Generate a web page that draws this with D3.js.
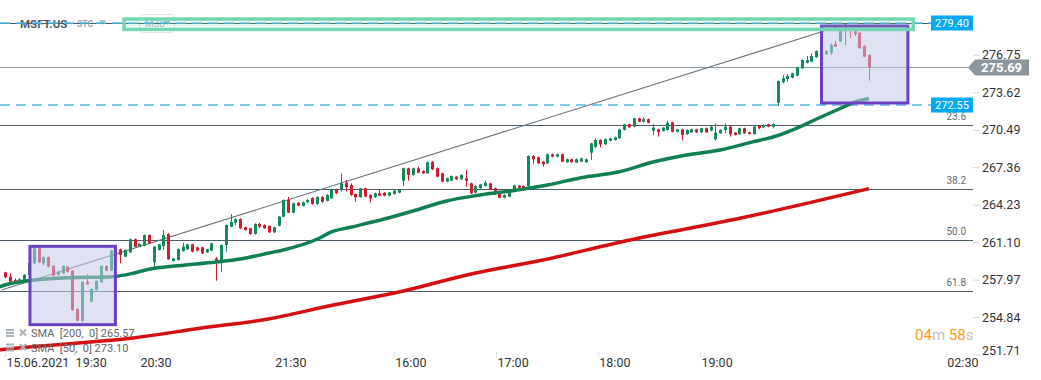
<!DOCTYPE html>
<html>
<head>
<meta charset="utf-8">
<script src="https://cdn.jsdelivr.net/npm/d3@7"></script>
<style>
  body { margin: 0; background: #fff; font-family: Roboto, "Noto Sans", sans-serif; }
  svg { display: block; }
</style>
</head>
<body>
<div id="chart"></div>
<script>
////////////////////////////////////
////////////// data ////////////////
////////////////////////////////////

const symbol = 'MSFT.US'
const interval = 'M30'

// one row per candle: [open, high, low, close]
const candles = [
  [258.58,258.63,258.08,258.17],[258.22,258.50,257.66,257.80],[257.94,258.08,257.61,257.75],[257.75,258.08,257.66,258.00],
  [257.88,258.42,257.80,258.36],[258.36,259.40,258.30,259.36],[259.33,260.65,259.25,260.59],[260.59,260.65,259.35,259.42],
  [259.33,259.90,259.19,259.84],[259.84,259.90,259.00,259.05],[259.13,259.19,258.22,258.30],[258.36,258.70,258.30,258.63],
  [258.50,259.15,258.45,259.11],[259.05,259.11,258.58,258.63],[258.72,258.78,255.35,255.44],[255.52,255.56,254.48,254.54],
  [254.54,257.82,254.41,257.80],[257.80,258.42,257.55,257.58],[256.13,257.23,256.08,257.19],[257.11,257.90,257.05,257.86],
  [257.75,259.15,257.70,259.11],[259.11,259.15,258.68,258.72],[258.72,260.43,258.68,260.39],[260.30,260.60,260.20,260.50],
  [260.50,260.55,259.33,260.03],[259.89,260.50,259.85,260.45],[260.25,261.40,260.20,261.34],[261.34,261.40,260.68,260.72],
  [260.72,261.00,260.68,260.95],[260.80,261.75,260.75,261.70],[261.70,261.75,260.95,261.00],[259.42,260.76,258.92,260.72],
  [260.45,260.97,260.40,260.92],[260.78,262.12,260.45,261.70],[261.78,261.85,259.62,259.67],[259.53,259.80,259.48,259.75],
  [259.61,260.58,259.56,260.53],[260.36,261.06,260.30,260.72],[260.50,260.97,260.45,260.92],[260.92,260.97,260.25,260.30],
  [260.67,260.72,260.35,260.39],[260.67,260.72,260.12,260.17],[260.25,260.55,260.20,260.50],[260.39,261.05,260.35,261.00],
  [259.75,259.84,257.88,259.47],[259.47,260.90,258.63,260.86],[260.86,262.58,260.30,262.53],[262.39,263.45,262.35,262.81],
  [262.72,263.09,262.53,263.03],[263.03,263.09,262.20,262.26],[262.34,262.40,262.05,262.12],[262.26,262.30,261.72,261.78],
  [261.78,262.67,261.72,262.62],[262.62,262.72,262.26,262.39],[262.53,262.58,262.20,262.26],[262.45,262.50,261.87,261.92],
  [261.92,262.40,261.87,262.34],[262.47,263.28,262.42,263.23],[263.23,264.67,263.18,264.62],[264.62,264.87,263.53,263.56],
  [263.56,264.40,263.50,264.34],[264.39,264.45,264.10,264.14],[264.12,264.50,264.08,264.43],[264.43,264.68,264.38,264.62],
  [264.79,264.85,264.22,264.29],[264.29,264.93,264.22,264.87],[264.87,264.93,264.40,264.45],[264.54,265.10,264.50,265.04],
  [264.76,265.56,264.70,265.51],[265.51,265.56,265.12,265.18],[265.51,266.85,265.31,266.01],[266.06,266.29,265.31,265.68],
  [265.87,266.01,264.95,265.04],[265.12,265.17,264.48,264.85],[264.85,265.65,264.80,265.60],[265.60,265.65,264.85,264.90],
  [265.04,265.10,264.39,264.76],[264.85,265.23,264.80,265.18],[265.18,265.46,264.95,264.98],[265.23,265.28,264.93,264.98],
  [264.98,265.31,264.93,265.26],[265.12,265.45,265.07,265.40],[265.23,265.51,265.18,265.46],[266.23,267.32,265.81,267.27],
  [267.27,267.32,266.23,266.71],[266.71,267.32,266.65,267.27],[267.27,267.40,266.85,266.90],[267.04,267.10,266.80,266.85],
  [266.85,267.83,266.80,267.77],[267.82,267.88,267.12,267.18],[267.27,267.32,266.52,266.57],[266.85,266.90,266.10,266.15],
  [266.15,266.48,266.10,266.43],[266.23,266.68,266.18,266.62],[266.57,266.62,266.30,266.35],[266.35,266.76,266.30,266.71],
  [266.43,267.13,265.73,266.23],[266.01,266.06,265.12,265.18],[265.23,265.84,265.18,265.79],[265.60,265.98,265.55,265.93],
  [265.79,266.23,265.73,266.06],[266.01,266.06,265.46,265.51],[265.60,265.65,265.04,265.18],[265.23,265.28,264.76,264.81],
  [264.81,265.10,264.76,265.04],[264.90,265.42,264.85,265.37],[265.31,265.90,265.26,265.85],[265.81,265.87,265.60,265.65],
  [265.79,265.84,265.40,265.46],[265.79,268.35,265.73,268.29],[268.29,268.38,267.60,268.02],[268.19,268.24,267.63,267.68],
  [267.82,267.88,267.40,267.60],[267.68,268.50,267.63,268.44],[268.44,268.50,268.18,268.24],[268.24,268.50,268.18,268.44],
  [268.44,268.50,267.77,267.82],[267.77,268.08,267.72,268.02],[268.02,268.08,267.72,267.77],[267.74,268.08,267.70,268.02],
  [267.82,268.16,267.77,268.10],[267.77,268.08,267.72,268.02],[268.57,269.40,267.96,269.35],[269.07,269.77,268.94,269.63],
  [269.63,269.69,269.02,269.27],[269.27,269.76,269.22,269.71],[269.57,269.82,269.52,269.77],[269.63,269.91,269.58,269.86],
  [269.77,270.57,269.72,270.52],[270.47,270.99,270.42,270.94],[270.94,270.99,270.64,270.69],[270.74,271.49,270.69,271.44],
  [271.44,271.49,271.11,271.16],[271.16,271.53,271.11,271.36],[271.36,271.41,271.02,271.07],[270.41,270.97,270.05,270.66],
  [270.52,270.57,269.91,270.27],[270.38,270.71,270.33,270.66],[270.47,271.24,270.42,271.07],[271.11,271.16,270.27,270.32],
  [270.32,270.57,270.27,270.52],[270.52,270.57,269.57,270.05],[270.11,270.52,270.06,270.47],[270.27,270.57,270.22,270.52],
  [270.52,270.57,270.22,270.27],[270.27,270.66,270.22,270.61],[270.61,270.66,270.22,270.27],[270.41,270.79,270.36,270.74],
  [269.69,271.02,269.57,270.24],[270.19,270.52,270.14,270.47],[270.47,271.02,270.19,270.74],[270.74,270.79,269.91,270.11],
  [270.24,270.29,270.00,270.05],[270.11,270.66,270.06,270.61],[270.61,270.66,270.14,270.19],[270.27,270.32,270.08,270.13],
  [270.13,270.79,270.08,270.74],[270.80,270.85,270.52,270.61],[270.69,270.93,270.64,270.88],[270.94,270.99,270.69,270.74],
  [270.74,271.02,270.61,270.97],[272.74,274.60,272.47,274.56],[274.45,275.06,274.36,274.78],[274.72,275.14,274.50,274.97],
  [274.83,275.25,274.78,275.20],[275.00,275.75,274.95,275.70],[275.62,276.36,275.57,276.31],[276.08,276.64,276.03,276.31],
  [276.17,276.87,276.12,276.64],[276.54,277.11,276.49,277.06],[277.06,277.20,276.74,276.79],[276.79,277.12,276.74,277.06],
  [276.92,277.70,276.73,277.56],[277.65,277.90,277.38,277.42],[277.84,278.87,277.80,278.82],[278.96,279.40,277.56,278.76],
  [278.82,279.10,278.12,278.73],[278.76,278.85,278.31,278.48],[278.59,278.65,277.25,277.29],[277.48,277.55,276.53,276.59],
  [276.73,276.78,274.58,275.69]
]

// moving averages: [candle index, price]
const sma50 = [[-1.2,257.36],[0,257.52],[6,257.94],[13,258.13],[22.5,258.22],[26.7,258.50],[30,258.84],[36,259.13],
  [44,259.44],[49,259.69],[55,260.19],[58,260.45],[65,261.34],[68,261.95],[72,262.34],[79,263.03],[85,263.70],[92,264.54],
  [99,265.04],[106,265.41],[113,265.87],[120,266.48],[128,266.98],[135,267.79],[142,268.38],[149,268.80],[156,269.49],
  [160,269.88],[165,270.63],[170,271.55],[174,272.26],[177,272.80],[180,273.10]]
const sma200 = [[-1.2,252.10],[0,252.15],[12.9,252.60],[26.7,253.10],[40.6,253.91],[54.5,254.66],[68.4,255.85],
  [83,257.02],[96.2,258.36],[112.1,259.61],[130.2,261.28],[153.1,263.09],[167,264.34],[180,265.57]]
const smaLegend = [{ name: 'SMA  [200,  0]', value: 265.57 }, { name: 'SMA  [50,  0]', value: 273.10 }]

// price axis
const priceTicks = [276.75, 273.62, 270.49, 267.36, 264.23, 261.10, 257.97, 254.84, 251.71]

// time axis (candle index of each label)
const timeTicks = [0, 14.4, 27.9, 56, 81, 102.3, 123.5, 144.8, 196]
const timeLabels = ['15.06.2021', '19:30', '20:30', '21:30', '16:00', '17:00', '18:00', '19:00', '02:30']

// fibonacci retracement
const fibHigh = 279.40
const fibLow = 243.18
const fibLevels = [0, 23.6, 38.2, 50.0, 61.8]

// price lines
const lastPrice = 275.69
const alertLevels = [279.40, 272.55]

// drawing objects: [index from, index to, price top, price bottom]
const trendLine = [[-0.7, 257.11], [174.6, 279.23]]
const boxes = [[5.2, 23, 260.75, 254.21], [170.1, 188.1, 279.15, 272.72]]
const zone = [24.8, 189.2, 279.73, 278.86]

const timer = ['04', 'm', ' 58', 's']

////////////////////////////////////
//////////// SVG Setup /////////////
////////////////////////////////////

const svgWidth = 1041
const svgHeight = 380
const plotRight = 973

const svg = d3.select('#chart')
  .append('svg')
  .attr('width', svgWidth)
  .attr('height', svgHeight)

const x = d3.scaleLinear().domain([0, 180]).range([5, 869])
const y = d3.scaleLinear().domain([281.32, 251.71]).range([0, 354.6])

const green = '#138a5b'
const red = '#d61a2e'
const lineColor = '#4b5b66'

////////////////////////////////////
////////////// header //////////////
////////////////////////////////////

const header = svg.append('g')
header.append('text').attr('x', 20).attr('y', 27.5).text(symbol)
  .attr('font-size', 11.5).attr('font-weight', 700).attr('fill', '#4e5d68')
header.append('text').attr('x', 77).attr('y', 27).text('STC')
  .attr('font-size', 8.5).attr('font-weight', 700).attr('fill', '#9aa6ae')
header.append('path').attr('d', 'M99,20 L106,20 L102.5,25 Z').attr('fill', '#b6c0c6')
header.append('rect').attr('x', 139.5).attr('y', 14.5).attr('width', 35).attr('height', 18).attr('rx', 3)
  .attr('fill', 'none').attr('stroke', '#dde3e6')
header.append('text').attr('x', 145).attr('y', 27).text(interval)
  .attr('font-size', 10).attr('fill', '#aab3b9')
header.append('path').attr('d', 'M164,21 L170,21 L167,25 Z').attr('fill', '#aab3b9')

////////////////////////////////////
/////////// level lines ////////////
////////////////////////////////////

const fibPrice = l => fibHigh - (fibHigh - fibLow) * l / 100

svg.append('g').selectAll('line')
  .data(fibLevels)
  .join('line')
  .attr('x1', 0).attr('x2', plotRight)
  .attr('y1', d => Math.round(y(fibPrice(d))) + 0.5)
  .attr('y2', d => Math.round(y(fibPrice(d))) + 0.5)
  .attr('stroke', lineColor).attr('stroke-width', 1)

// the 0.0 label sits under the 279.40 tag, so only the others are written
svg.append('g').selectAll('text')
  .data(fibLevels.filter(d => d > 0))
  .join('text')
  .attr('x', 966).attr('y', d => y(fibPrice(d)) - 5)
  .attr('text-anchor', 'end').attr('font-size', 10).attr('fill', '#5d6a73')
  .text(d => d.toFixed(1))

svg.append('g').selectAll('line')
  .data(alertLevels)
  .join('line')
  .attr('x1', 0).attr('x2', 931)
  .attr('y1', d => y(d)).attr('y2', d => y(d))
  .attr('stroke', '#4fbbea').attr('stroke-width', 1.5).attr('stroke-dasharray', '10,6')

svg.append('line')
  .attr('x1', 0).attr('x2', 968)
  .attr('y1', Math.round(y(lastPrice)) + 0.5).attr('y2', Math.round(y(lastPrice)) + 0.5)
  .attr('stroke', '#8f9ba2').attr('stroke-width', 1)

svg.append('line')
  .attr('x1', x(trendLine[0][0])).attr('y1', y(trendLine[0][1]))
  .attr('x2', x(trendLine[1][0])).attr('y2', y(trendLine[1][1]))
  .attr('stroke', '#66747e').attr('stroke-width', 1.1)

////////////////////////////////////
////////////// candles /////////////
////////////////////////////////////

const cx = i => Math.round(x(i)) + 0.5

const candle = svg.append('g').selectAll('g')
  .data(candles)
  .join('g')
  .attr('class', 'candle')

candle.append('line')
  .attr('x1', (d, i) => cx(i)).attr('x2', (d, i) => cx(i))
  .attr('y1', d => y(d[1])).attr('y2', d => y(d[2]))
  .attr('stroke', d => d[3] >= d[0] ? green : red).attr('stroke-width', 1)

candle.append('rect')
  .attr('x', (d, i) => cx(i) - 1.5)
  .attr('width', 3)
  .attr('y', d => y(Math.max(d[0], d[3])))
  .attr('height', d => Math.max(1, Math.abs(y(d[0]) - y(d[3]))))
  .attr('fill', d => d[3] >= d[0] ? green : red)

////////////////////////////////////
/////////// moving averages ////////
////////////////////////////////////

const smaLine = d3.line().x(d => x(d[0])).y(d => y(d[1])).curve(d3.curveMonotoneX)

svg.append('path').datum(sma200).attr('d', smaLine)
  .attr('fill', 'none').attr('stroke', '#d50f0f').attr('stroke-width', 3.5).attr('stroke-linejoin', 'round')
svg.append('path').datum(sma50).attr('d', smaLine)
  .attr('fill', 'none').attr('stroke', '#108053').attr('stroke-width', 3.5).attr('stroke-linejoin', 'round')

////////////////////////////////////
////////// drawing objects /////////
////////////////////////////////////

svg.append('g').selectAll('rect')
  .data(boxes)
  .join('rect')
  .attr('x', d => x(d[0])).attr('width', d => x(d[1]) - x(d[0]))
  .attr('y', d => y(d[2])).attr('height', d => y(d[3]) - y(d[2]))
  .attr('fill', 'rgba(197,202,233,0.55)').attr('stroke', '#6a3fc2').attr('stroke-width', 3)

svg.append('rect')
  .attr('x', x(zone[0])).attr('width', x(zone[1]) - x(zone[0]))
  .attr('y', y(zone[2])).attr('height', y(zone[3]) - y(zone[2]))
  .attr('fill', 'rgba(120,220,180,0.16)').attr('stroke', '#72d8b1').attr('stroke-width', 3.5)

////////////////////////////////////
/////////////// axes ///////////////
////////////////////////////////////

const yAxis = svg.append('g')
  .attr('transform', 'translate(' + plotRight + ',0)')
  .call(d3.axisRight(y).tickValues(priceTicks).tickFormat(d3.format('.2f')).tickSize(7).tickPadding(2))
yAxis.select('.domain').remove()
yAxis.selectAll('line').attr('stroke', '#d6d6d6')
yAxis.selectAll('text').attr('font-size', 12.5).attr('fill', '#333').attr('font-family', 'Roboto, sans-serif')
  .attr('transform', d => y(d) > 350 ? 'translate(0,-4.5)' : null)

const xAxis = svg.append('g')
  .attr('transform', 'translate(0,352)')
  .call(d3.axisBottom(x).tickValues(timeTicks).tickFormat((d, i) => timeLabels[i]).tickSize(5).tickPadding(1.5))
xAxis.select('.domain').remove()
xAxis.selectAll('line').attr('stroke', '#e2e2e2')
xAxis.selectAll('text').attr('text-anchor', 'start').attr('x', 1)
  .attr('font-size', 12.5).attr('fill', '#333').attr('font-family', 'Roboto, sans-serif')

////////////////////////////////////
///////////// price tags ///////////
////////////////////////////////////

const tags = svg.append('g').selectAll('g')
  .data(alertLevels)
  .join('g')
  .attr('transform', d => 'translate(931,' + y(d) + ')')
tags.append('rect').attr('x', 0).attr('y', -7.5).attr('width', 42).attr('height', 15).attr('fill', '#03a9f4')
tags.append('text').attr('x', 21).attr('y', 4).attr('text-anchor', 'middle')
  .attr('font-size', 11).attr('fill', '#fff').text(d => d.toFixed(2))

const ly = y(lastPrice)
svg.append('path')
  .attr('d', 'M968,' + ly + ' L975,' + (ly - 8) + ' L1029,' + (ly - 8) + ' L1029,' + (ly + 8) + ' L975,' + (ly + 8) + ' Z')
  .attr('fill', '#8c979d')
svg.append('text').attr('x', 981).attr('y', ly + 5).text(lastPrice.toFixed(2))
  .attr('font-size', 13).attr('font-weight', 700).attr('fill', '#fff')

////////////////////////////////////
////////////// legend //////////////
////////////////////////////////////

const legend = svg.append('g').selectAll('g')
  .data(smaLegend)
  .join('g')
  .attr('transform', (d, i) => 'translate(0,' + (333 + i * 14.5) + ')')
legend.append('rect').attr('x', 6).attr('y', -4).attr('width', 8).attr('height', 2).attr('fill', '#a9b1b6')
legend.append('rect').attr('x', 6).attr('y', -1).attr('width', 8).attr('height', 2).attr('fill', '#a9b1b6')
legend.append('rect').attr('x', 6).attr('y', 2).attr('width', 8).attr('height', 2).attr('fill', '#a9b1b6')
legend.append('path').attr('d', 'M20,-3.5 L26,2.5 M26,-3.5 L20,2.5')
  .attr('stroke', '#a9b1b6').attr('stroke-width', 2)
legend.append('text').attr('x', 31).attr('y', 4).attr('font-size', 11).attr('fill', '#666')
  .attr('xml:space', 'preserve')
  .text(d => d.name + ' ' + d.value.toFixed(2))

////////////////////////////////////
/////////////// timer //////////////
////////////////////////////////////

svg.append('text').attr('x', 915).attr('y', 340).attr('font-size', 15)
  .attr('xml:space', 'preserve')
  .selectAll('tspan')
  .data(timer)
  .join('tspan')
  .attr('fill', (d, i) => i % 2 === 0 ? '#ff9b1a' : '#c4c4c4')
  .text(d => d)
</script>
</body>
</html>
